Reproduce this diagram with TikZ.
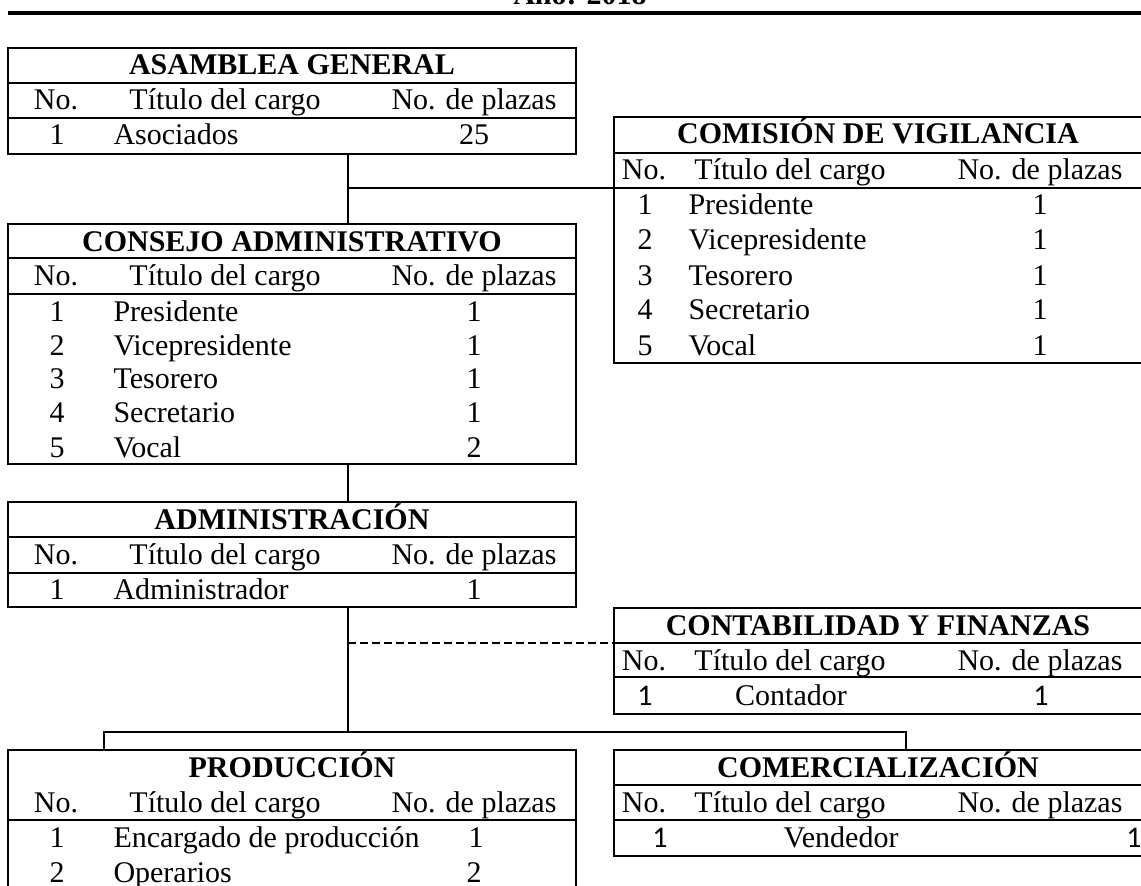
\documentclass[tikz,border=0pt]{standalone}
\usepackage{fontspec}
\setmainfont{Liberation Serif}
\newfontfamily\sansnum{Carlito}
\usetikzlibrary{positioning}

\tikzstyle{frame} = [rectangle, draw, line width=1pt, anchor=north west, inner sep=0pt, outer sep=0pt]
\tikzstyle{txt} = [anchor=base, inner sep=0pt, font=\fontsize{12}{14}\selectfont]
\tikzstyle{cargo} = [txt, anchor=base west]
\tikzstyle{head} = [txt, font=\fontsize{12}{14}\selectfont\bfseries]
\tikzstyle{link} = [draw, line width=0.6pt]
\tikzstyle{branch} = [draw, line width=1pt]

\begin{document}
\begin{tikzpicture}[x=0.4pt, y=-0.4pt]
    \useasboundingbox (0,0) rectangle (1141,886);

    % Heading
    \node [head] (anio) at (580,5) {Año: 2018};
    \coordinate (rulel) at (8,13);
    \coordinate (ruler) at (1141,13);
    \draw [line width=1.3pt] (rulel) -- (ruler);

    % Asamblea general
    \node [frame, minimum width=568*0.4pt, minimum height=35*0.4pt] (asam-title) at (8,48) {};
    \node [frame, minimum width=568*0.4pt, minimum height=35*0.4pt] (asam-head) at (asam-title.south west) {};
    \node [frame, minimum width=568*0.4pt, minimum height=36*0.4pt] (asam-body) at (asam-head.south west) {};
    \node [head] at (292,75) {ASAMBLEA GENERAL};
    \node [txt] at (56,110) {No.};
    \node [txt] at (225,110) {Título del cargo};
    \node [txt] at (474,110) {No. de plazas};
    \node [txt] at (57,145) {1};
    \node [cargo] at (113,145) {Asociados};
    \node [txt] at (474,145) {25};

    % Comision de vigilancia
    \node [frame, minimum width=530*0.4pt, minimum height=36*0.4pt] (vigi-title) at (614,117) {};
    \node [frame, minimum width=530*0.4pt, minimum height=35*0.4pt] (vigi-head) at (vigi-title.south west) {};
    \node [frame, minimum width=530*0.4pt, minimum height=175*0.4pt] (vigi-body) at (vigi-head.south west) {};
    \node [head] at (878,144) {COMISIÓN DE VIGILANCIA};
    \node [txt] at (644,180) {No.};
    \node [txt] at (790,180) {Título del cargo};
    \node [txt] at (1040,180) {No. de plazas};
    \foreach \n/\c [count=\i from 0] in {1/Presidente, 2/Vicepresidente, 3/Tesorero, 4/Secretario, 5/Vocal}
    {
        \node [txt] at (645,215+35*\i) {\n};
        \node [cargo] at (688,215+35*\i) {\c};
        \node [txt] at (1040,215+35*\i) {1};
    }

    % Consejo administrativo
    \node [frame, minimum width=568*0.4pt, minimum height=34*0.4pt] (cons-title) at (8,224) {};
    \node [frame, minimum width=568*0.4pt, minimum height=36*0.4pt] (cons-head) at (cons-title.south west) {};
    \node [frame, minimum width=568*0.4pt, minimum height=170*0.4pt] (cons-body) at (cons-head.south west) {};
    \node [head] at (292,251) {CONSEJO ADMINISTRATIVO};
    \node [txt] at (56,285) {No.};
    \node [txt] at (225,285) {Título del cargo};
    \node [txt] at (474,285) {No. de plazas};
    \foreach \n/\c/\p [count=\i from 0] in {1/Presidente/1, 2/Vicepresidente/1, 3/Tesorero/1, 4/Secretario/1, 5/Vocal/2}
    {
        \node [txt] at (57,321+34*\i) {\n};
        \node [cargo] at (113,321+34*\i) {\c};
        \node [txt] at (474,321+34*\i) {\p};
    }

    % Administracion
    \node [frame, minimum width=568*0.4pt, minimum height=35*0.4pt] (admi-title) at (8,502) {};
    \node [frame, minimum width=568*0.4pt, minimum height=36*0.4pt] (admi-head) at (admi-title.south west) {};
    \node [frame, minimum width=568*0.4pt, minimum height=34*0.4pt] (admi-body) at (admi-head.south west) {};
    \node [head] at (292,529) {ADMINISTRACIÓN};
    \node [txt] at (56,564) {No.};
    \node [txt] at (225,564) {Título del cargo};
    \node [txt] at (474,564) {No. de plazas};
    \node [txt] at (57,599) {1};
    \node [cargo] at (113,599) {Administrador};
    \node [txt] at (474,599) {1};

    % Contabilidad y finanzas
    \node [frame, minimum width=530*0.4pt, minimum height=35*0.4pt] (cont-title) at (614,608) {};
    \node [frame, minimum width=530*0.4pt, minimum height=34*0.4pt] (cont-head) at (cont-title.south west) {};
    \node [frame, minimum width=530*0.4pt, minimum height=37*0.4pt] (cont-body) at (cont-head.south west) {};
    \node [head] at (878,635) {CONTABILIDAD Y FINANZAS};
    \node [txt] at (644,670) {No.};
    \node [txt] at (790,670) {Título del cargo};
    \node [txt] at (1040,670) {No. de plazas};
    \node [txt, font=\fontsize{12}{14}\sansnum] at (645,705) {1};
    \node [txt] at (791,705) {Contador};
    \node [txt, font=\fontsize{12}{14}\sansnum] at (1041,705) {1};

    % Produccion
    \node [frame, minimum width=568*0.4pt, minimum height=70*0.4pt] (prod-head) at (8,750) {};
    \node [frame, minimum width=568*0.4pt, minimum height=100*0.4pt] (prod-body) at (prod-head.south west) {};
    \node [head] at (292,777) {PRODUCCIÓN};
    \node [txt] at (56,812) {No.};
    \node [txt] at (225,812) {Título del cargo};
    \node [txt] at (474,812) {No. de plazas};
    \node [txt] at (57,847) {1};
    \node [cargo] at (113,847) {Encargado de producción};
    \node [txt] at (476,847) {1};
    \node [txt] at (57,882) {2};
    \node [cargo] at (113,882) {Operarios};
    \node [txt] at (474,882) {2};

    % Comercializacion
    \node [frame, minimum width=530*0.4pt, minimum height=35*0.4pt] (come-title) at (614,750) {};
    \node [frame, minimum width=530*0.4pt, minimum height=35*0.4pt] (come-head) at (come-title.south west) {};
    \node [frame, minimum width=530*0.4pt, minimum height=36*0.4pt] (come-body) at (come-head.south west) {};
    \node [head] at (878,777) {COMERCIALIZACIÓN};
    \node [txt] at (644,812) {No.};
    \node [txt] at (790,812) {Título del cargo};
    \node [txt] at (1040,812) {No. de plazas};
    \node [txt, font=\fontsize{12}{14}\sansnum] at (660,847) {1};
    \node [txt] at (841,847) {Vendedor};
    \node [txt, font=\fontsize{12}{14}\sansnum] at (1134,847) {1};

    % Lines
    \coordinate (spine) at (348,0);
    \coordinate (busl) at (104,732);
    \coordinate (busr) at (906,732);
    \path [link] (asam-body.south -| spine) -- (cons-title.north -| spine);
    \path [branch] (vigi-head.south west -| spine) -- (vigi-head.south west);
    \path [link] (cons-body.south -| spine) -- (admi-title.north -| spine);
    \path [link] (admi-body.south -| spine) -- (busl -| spine);
    \path [link, dash pattern=on 3pt off 1.8pt] (cont-title.south west -| spine) -- (cont-title.south west);
    \path [branch] (prod-head.north -| busl) -- (busl) -- (busr) -- (come-title.north -| busr);

\end{tikzpicture}
\end{document}
